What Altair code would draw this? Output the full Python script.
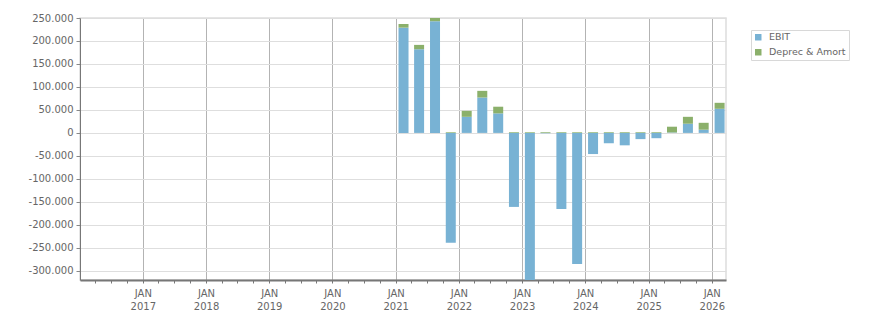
import altair as alt
import pandas as pd

# Quarterly data (bars centred mid-quarter)
quarters = [
    "2021-02-15", "2021-05-16", "2021-08-16", "2021-11-15",
    "2022-02-15", "2022-05-16", "2022-08-16", "2022-11-15",
    "2023-02-15", "2023-05-16", "2023-08-16", "2023-11-15",
    "2024-02-15", "2024-05-16", "2024-08-16", "2024-11-15",
    "2025-02-15", "2025-05-16", "2025-08-16", "2025-11-15",
    "2026-02-15",
]
ebit = [
    229000, 182000, 243000, -239000,
    35000, 77000, 42500, -161000,
    -340000, -800, -165500, -285000,
    -46000, -22500, -27000, -13500,
    -11500, 1000, 20000, 7000,
    52500,
]
deprec_amort = [
    8000, 9500, 7000, 1500,
    13000, 14500, 14500, 1500,
    1500, 1500, 1500, 1500,
    1500, 1500, 1500, 1500,
    1500, 12500, 15000, 15000,
    13000,
]
series = ["EBIT", "Deprec & Amort"]
colors = ["#78b2d4", "#8bb06b"]
y_ticks = [-300000, -250000, -200000, -150000, -100000, -50000, 0,
           50000, 100000, 150000, 200000, 250000]
tick_years = list(range(2016, 2027))
tick_months = [1, 4, 7, 10]

rows = []
for d, e, da in zip(quarters, ebit, deprec_amort):
    rows.append({"date": d, "series": series[0], "value": e, "order": 0})
    rows.append({"date": d, "series": series[1], "value": da, "order": 1})
df = pd.DataFrame(rows)

x_values = [
    alt.DateTime(year=y, month=m, date=1, utc=True)
    for y in tick_years for m in tick_months
    if (y, m) > (2016, 1) and (y, m) <= (2026, 1)
]

FONT = "DejaVu Sans"
LABEL_COLOR = "#666666"

chart = alt.Chart(df).mark_bar(size=10, clip=True).encode(
    x=alt.X(
        "date:T",
        scale=alt.Scale(
            type="utc",
            padding=0,
            nice=False,
            domain=[alt.DateTime(year=2016, month=1, date=4, utc=True),
                    alt.DateTime(year=2026, month=3, date=24, utc=True)],
        ),
        axis=alt.Axis(
            title=None,
            values=x_values,
            labelExpr="utcmonth(datum.value) === 0 ? ['JAN', utcFormat(datum.value, '%Y')] : ''",
            labelFont=FONT,
            labelFontSize=10,
            labelColor=LABEL_COLOR,
            labelBaseline="top",
            labelLineHeight=13,
            labelPadding=5,
            labelOverlap=False,
            labelFlush=False,
            tickSize=3,
            tickColor="#777777",
            domainColor="#777777",
            domainWidth=2,
            grid=True,
            gridColor="#b3b3b3",
            gridWidth=1,
            gridOpacity={"condition": {"test": "utcmonth(datum.value) === 0", "value": 1}, "value": 0},
        ),
    ),
    y=alt.Y(
        "value:Q",
        stack="zero",
        scale=alt.Scale(domain=[-320000, 250000], nice=False, zero=True),
        axis=alt.Axis(
            title=None,
            values=y_ticks,
            labelExpr="(datum.value < 0 ? '-' : '') + replace(format(abs(datum.value), ','), ',', '.')",
            labelFont=FONT,
            labelFontSize=10,
            labelColor=LABEL_COLOR,
            labelPadding=3,
            tickSize=4,
            tickColor="#888888",
            domainColor="#777777",
            domainWidth=1,
            grid=True,
            gridColor="#dedede",
            gridWidth=1,
        ),
    ),
    color=alt.Color(
        "series:N",
        scale=alt.Scale(domain=series, range=colors),
        legend=alt.Legend(
            title=None,
            orient="none",
            legendX=671,
            legendY=12,
            symbolType="square",
            symbolSize=42,
            symbolStrokeWidth=0,
            labelFont=FONT,
            labelFontSize=9.5,
            labelColor=LABEL_COLOR,
            strokeColor="#d8d8d8",
            fillColor="white",
            padding=2.5,
            rowPadding=4,
            labelOffset=6,
        ),
    ),
    order=alt.Order("order:Q"),
).properties(
    width=646,
    height=262,
    padding={"left": 80, "top": 18, "right": 150, "bottom": 33},
    autosize=alt.AutoSizeParams(type="none"),
).configure_view(
    stroke="#dddddd",
    strokeWidth=1.5,
)

chart.save("out.html", embed_options={"renderer": "svg", "actions": False})
